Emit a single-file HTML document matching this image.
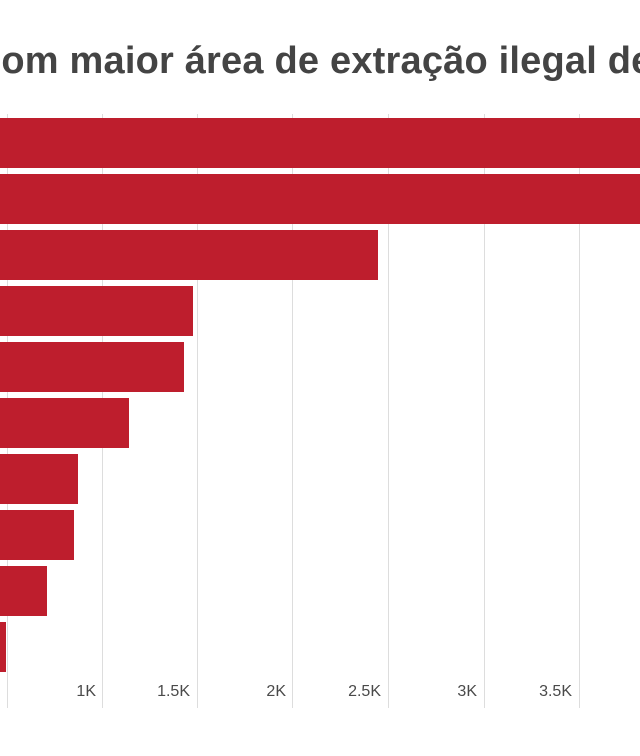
<!DOCTYPE html>
<html><head><style>
body{margin:0;width:640px;height:756px;overflow:hidden;background:#fff;position:relative;font-family:"Liberation Sans",sans-serif}
.t{position:absolute;left:-20px;top:40px;font-size:38px;font-weight:bold;color:#444;white-space:nowrap;letter-spacing:0.2px}
.g{position:absolute;top:114px;height:594px;width:1px;background:#ddd}
.b{position:absolute;left:0;height:50px;background:#be1e2d}
.l{position:absolute;top:683px;font-size:16px;color:#4a4a4a;text-align:right;width:60px}
</style></head><body>
<div class="t">com maior área de extração ilegal de</div>
<div class="g" style="left:7px"></div><div class="g" style="left:102px"></div><div class="g" style="left:197px"></div><div class="g" style="left:292px"></div><div class="g" style="left:388px"></div><div class="g" style="left:484px"></div><div class="g" style="left:579px"></div>
<div class="b" style="top:118px;width:640px"></div>
<div class="b" style="top:174px;width:640px"></div>
<div class="b" style="top:230px;width:378px"></div>
<div class="b" style="top:286px;width:193px"></div>
<div class="b" style="top:342px;width:184px"></div>
<div class="b" style="top:398px;width:129px"></div>
<div class="b" style="top:454px;width:78px"></div>
<div class="b" style="top:510px;width:74px"></div>
<div class="b" style="top:566px;width:47px"></div>
<div class="b" style="top:622px;width:6px"></div>
<div class="l" style="left:36px">1K</div>
<div class="l" style="left:130px">1.5K</div>
<div class="l" style="left:226px">2K</div>
<div class="l" style="left:321px">2.5K</div>
<div class="l" style="left:417px">3K</div>
<div class="l" style="left:512px">3.5K</div>
</body></html>
